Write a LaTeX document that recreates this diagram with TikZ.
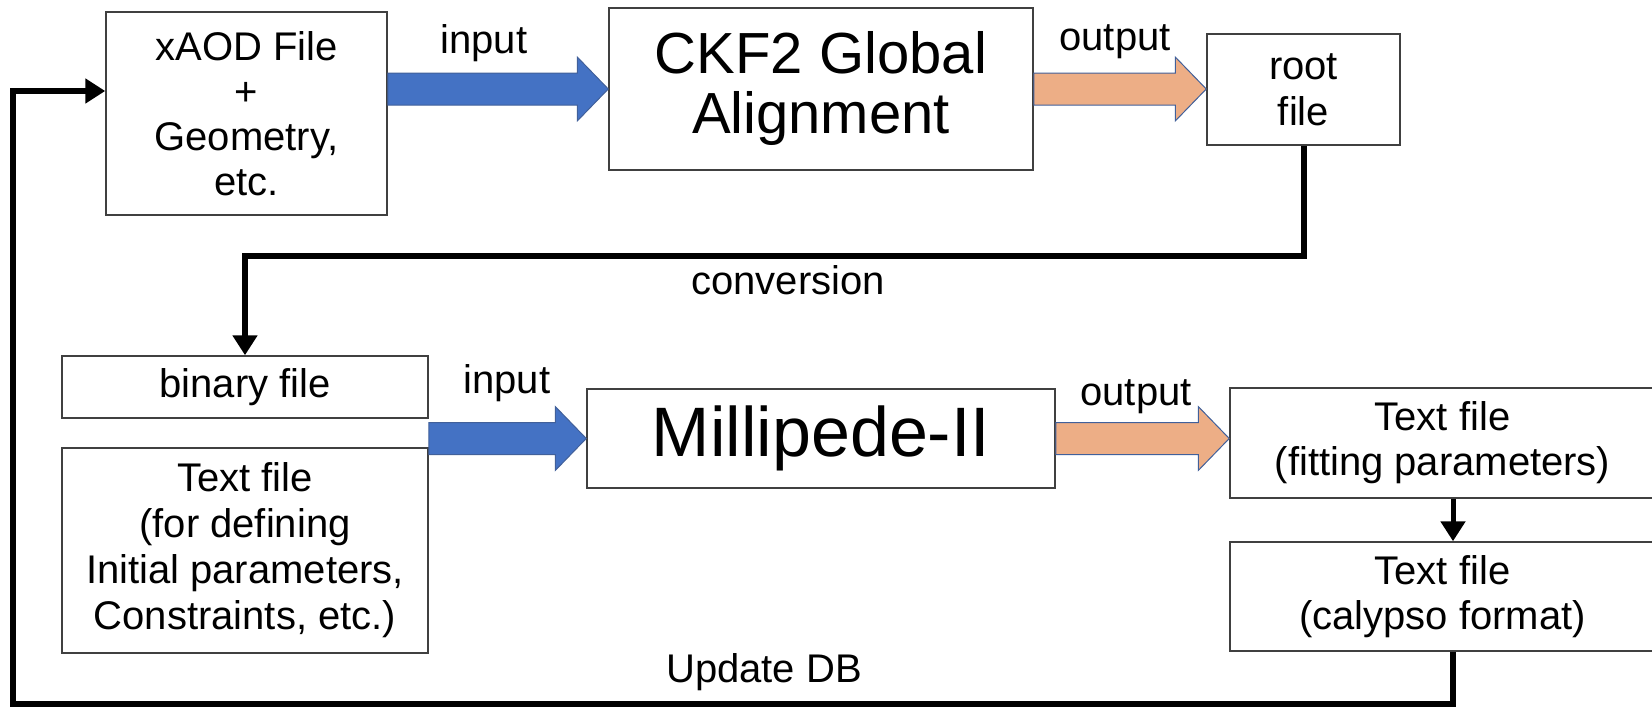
\documentclass[tikz,border=0pt]{standalone}
\usepackage{fontspec}
\setmainfont{Liberation Sans}
\usetikzlibrary{arrows.meta,calc}

\definecolor{inblue}{HTML}{4472C4}
\definecolor{outorange}{HTML}{EDAE86}
\definecolor{arrowedge}{HTML}{41609A}
\definecolor{boxline}{HTML}{404040}

% fat block arrow between two anchors
\NewDocumentCommand{\fatarrow}{mmm}{%
\path (#1) coordinate (fa-s) (#2) coordinate (fa-e);
\filldraw[fill=#3, draw=arrowedge, line width=1pt, line join=miter]
  ($(fa-s)+(0,-16)$) -- ($(fa-e)+(-31,-16)$) -- ($(fa-e)+(-31,-32)$) -- (fa-e)
  -- ($(fa-e)+(-31,32)$) -- ($(fa-e)+(-31,16)$) -- ($(fa-s)+(0,16)$) -- cycle;
}

\begin{document}
\begin{tikzpicture}[x=1pt,y=-1pt,
    box/.style={draw=boxline, line width=1.5pt, fill=white, align=center, inner sep=0pt,
      font=\fontsize{40}{45}\selectfont},
    bigbox/.style={box, font=\fontsize{58}{60}\selectfont},
    lbl/.style={anchor=base, inner sep=0pt, font=\fontsize{40}{45}\selectfont},
    flow/.style={line width=6pt, -{Triangle[length=20pt,width=24pt]}}]
\useasboundingbox (0,0) rectangle (1652,707);

% upper row
\node[box, minimum width=281, minimum height=203] (xaod) at (246.5,113.5) {xAOD File\\+\\Geometry,\\etc.};
\node[bigbox, minimum width=424, minimum height=162] (ckf) at (821,89) {CKF2 Global\\Alignment};
\node[box, minimum width=193, minimum height=111, font=\fontsize{40}{46}\selectfont] (root) at (1303.5,89.5) {root\\file};

% lower row
\node[box, minimum width=366, minimum height=62] (binary) at (245,387) {binary file};
\node[box, minimum width=366, minimum height=205, font=\fontsize{40}{46}\selectfont] (params) at (245,550.5)
  {Text file\\(for defining\\Initial parameters,\\Constraints, etc.)};
\node[bigbox, minimum width=468, minimum height=99, font=\fontsize{70}{72}\selectfont] (mille) at (821,438.5) {Millipede-II};
\node[box, minimum width=425, minimum height=110] (fitting) at (1442.5,443) {Text file\\(fitting parameters)};
\node[box, minimum width=425, minimum height=109] (calypso) at (1442.5,596.5) {Text file\\(calypso format)};

\fatarrow{xaod.east |- ckf.west}{ckf.west}{inblue}
\fatarrow{ckf.east}{root.west |- ckf.east}{outorange}
\fatarrow{binary.east |- mille.west}{mille.west}{inblue}
\fatarrow{mille.east}{fitting.west |- mille.east}{outorange}

\node[lbl] (in1) at (484,53) {input};
\node[lbl] (out1) at (1115,50) {output};
\node[lbl] (in2) at (507,393) {input};
\node[lbl] (out2) at (1136,405) {output};
\node[lbl] (conv) at (788,294) {conversion};
\node[lbl] (upd) at (764,682) {Update DB};

\coordinate (dbcorner) at (13,704);
\draw[flow] (root.south) -- ++(0,110) -| (binary.north);
\draw[flow, line width=5pt] ([xshift=10.5pt]fitting.south) -- ([xshift=10.5pt]calypso.north);
\draw[flow] ([xshift=10.5pt]calypso.south) |- (dbcorner) |- ([yshift=22.5pt]xaod.west);
\end{tikzpicture}
\end{document}
